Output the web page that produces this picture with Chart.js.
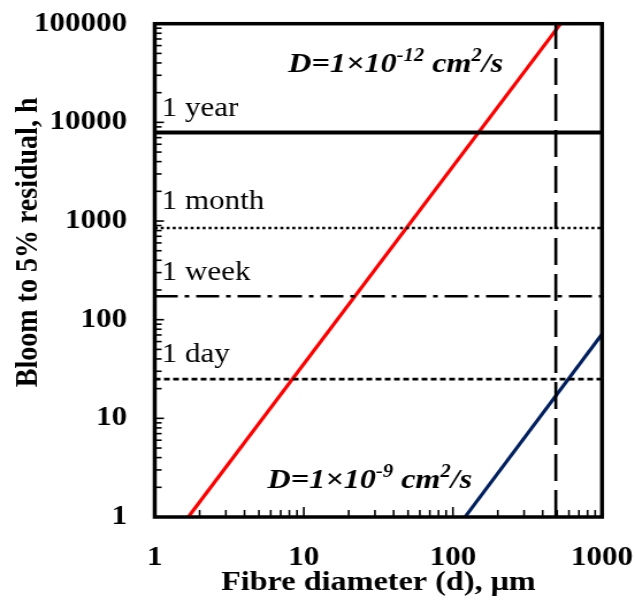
<!DOCTYPE html>
<html><head><meta charset="utf-8">
<script src="https://cdn.jsdelivr.net/npm/chart.js@4"></script>
<style>
html,body{margin:0;padding:0;background:#fff;overflow:hidden;width:635px;height:600px}
#wrap{width:552px;height:600px;transform:scaleX(1.1504);transform-origin:0 0;}
</style></head><body><div id="wrap"><canvas id="c"></canvas></div>
<script>
// ---- data ----
const xTicks = [1, 10, 100, 1000];
const yTicks = [1, 10, 100, 1000, 10000, 100000];
const redD  = [1.68, 528];     // fibre diameter, µm (D = 1e-12 cm2/s)
const redH  = [1, 100000];     // hours
const blueD = [120.5, 1000];   // fibre diameter, µm (D = 1e-9 cm2/s)
const blueH = [1, 71.5];
const refNames = ['1 year', '1 month', '1 week', '1 day'];
const refHours = [7900, 850, 173, 25];
const limitD = [490, 490];
const limitH = [1, 100000];

const SERIF = '"Liberation Serif","Times New Roman",serif';
const pts = (xs, ys) => xs.map((x, i) => ({x, y: ys[i]}));
const hline = v => [{x: xTicks[0], y: v}, {x: xTicks[xTicks.length - 1], y: v}];

const refStyles = [
  {borderWidth: 4, borderDash: []},
  {borderWidth: 2.6, borderDash: [2.6, 2.6]},
  {borderWidth: 2.6, borderDash: [20, 6, 4, 6]},
  {borderWidth: 2.6, borderDash: [5, 3]}
];

const datasets = [];
refNames.forEach((n, i) => datasets.push(Object.assign({
  label: n, data: hline(refHours[i]), borderColor: '#000', showLine: true,
  pointRadius: 0, fill: false, borderCapStyle: 'butt'
}, refStyles[i])));
datasets.push({label: 'limit', data: pts(limitD, limitH), borderColor: '#000', borderWidth: 2.6,
  borderDash: [27, 9], showLine: true, pointRadius: 0, borderCapStyle: 'butt'});
datasets.push({label: 'D=1e-12', data: pts(redD, redH), borderColor: '#ff0000', borderWidth: 3.2,
  showLine: true, pointRadius: 0});
datasets.push({label: 'D=1e-9', data: pts(blueD, blueH), borderColor: '#002060', borderWidth: 3.2,
  showLine: true, pointRadius: 0});

function drawRich(ctx, parts, x, y) {
  let cx = x;
  parts.forEach(([t, sup]) => {
    ctx.font = sup ? 'italic bold 18px ' + SERIF : 'italic bold 28px ' + SERIF;
    ctx.fillText(t, cx, sup ? y - 11 : y);
    cx += ctx.measureText(t).width;
  });
}

const deco = {
  id: 'deco',
  afterDatasetsDraw(chart) {
    const {ctx, chartArea: a, scales: {x, y}} = chart;
    ctx.save();
    ctx.strokeStyle = '#000';
    // inward ticks
    ctx.lineWidth = 1.6;
    for (let i = 0; i < xTicks.length - 1; i++) {
      for (let k = 1; k <= 9; k++) {
        if (k === 1 && i === 0) continue;
        const px = x.getPixelForValue(xTicks[i] * k);
        const len = k === 1 ? 10 : 7;
        ctx.beginPath(); ctx.moveTo(px, a.bottom); ctx.lineTo(px, a.bottom - len); ctx.stroke();
      }
    }
    for (let i = 0; i < yTicks.length - 1; i++) {
      for (let k = 1; k <= 9; k++) {
        if (k === 1 && i === 0) continue;
        const py = y.getPixelForValue(yTicks[i] * k);
        const len = k === 1 ? 8 : 6;
        ctx.beginPath(); ctx.moveTo(a.left, py); ctx.lineTo(a.left + len, py); ctx.stroke();
      }
    }
    // frame
    ctx.lineWidth = 3.5;
    ctx.strokeRect(a.left, a.top, a.right - a.left, a.bottom - a.top);
    // reference labels
    ctx.fillStyle = '#000';
    ctx.textBaseline = 'alphabetic';
    ctx.textAlign = 'left';
    ctx.font = '27px ' + SERIF;
    const offs = [16, 19, 16, 17];
    refNames.forEach((n, i) => {
      ctx.fillText(n, a.left + 6, y.getPixelForValue(refHours[i]) - offs[i]);
    });
    // diffusion coefficient labels
    drawRich(ctx, [['D=1×10', false], ['-12', true], [' cm', false], ['2', true], ['/s', false]],
      a.left + 116, a.top + 48);
    drawRich(ctx, [['D=1×10', false], ['-9', true], [' cm', false], ['2', true], ['/s', false]],
      a.left + 98, a.bottom - 29);
    ctx.restore();
  }
};

const tickFont = {family: SERIF, weight: 'bold', size: 27};
new Chart(document.getElementById('c'), {
  type: 'scatter',
  data: {datasets},
  plugins: [deco],
  options: {
    responsive: true, maintainAspectRatio: false, animation: false,
    layout: {padding: {top: 23.7, right: 28.7, bottom: 0, left: 0}},
    plugins: {legend: {display: false}, tooltip: {enabled: false}},
    elements: {line: {tension: 0}},
    scales: {
      x: {
        type: 'logarithmic', min: 1, max: 1000,
        afterBuildTicks: s => { s.ticks = xTicks.map(v => ({value: v})); },
        afterFit: s => { s.height = 83; s.paddingLeft = 0; s.paddingRight = 0; s.paddingTop = 0; s.paddingBottom = 0; },
        grid: {display: false, drawTicks: false},
        border: {display: false},
        ticks: {font: tickFont, color: '#000', padding: 25, maxRotation: 0, autoSkip: false,
          callback: v => String(v)},
        title: {display: true, text: 'Fibre diameter (d), μm', color: '#000',
          font: {family: SERIF, weight: 'bold', size: 28}, padding: {top: 0, bottom: 0}}
      },
      y: {
        type: 'logarithmic', min: 1, max: 100000,
        afterBuildTicks: s => { s.ticks = yTicks.map(v => ({value: v})); },
        afterFit: s => { s.width = 134.5; s.paddingLeft = 0; s.paddingRight = 0; s.paddingTop = 0; s.paddingBottom = 0; },
        grid: {display: false, drawTicks: false},
        border: {display: false},
        ticks: {font: tickFont, color: '#000', padding: 24, autoSkip: false,
          callback: v => String(v)},
        title: {display: true, text: '\u00a0\u00a0\u00a0\u00a0\u00a0\u00a0\u00a0\u00a0Bloom to 5% residual, h', color: '#000',
          font: {family: SERIF, weight: 'bold', size: 28}, padding: {top: 8, bottom: 0}}
      }
    }
  }
});
</script></body></html>
